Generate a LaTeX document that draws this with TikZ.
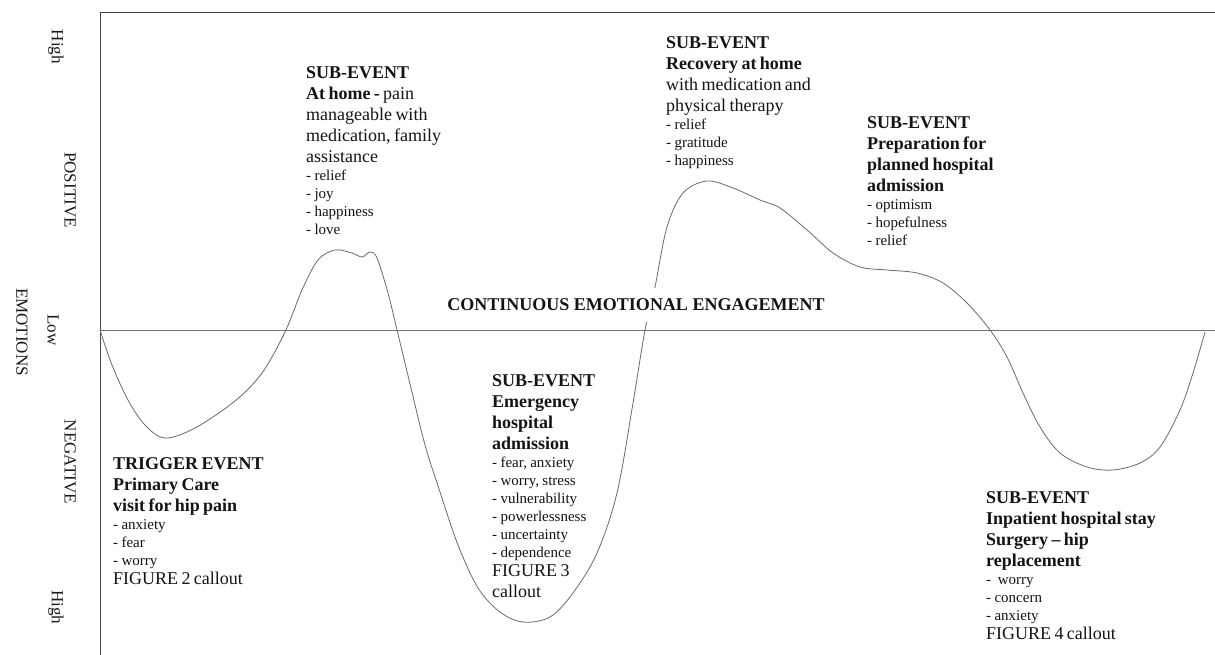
\documentclass[tikz,border=0pt]{standalone}
\usepackage{fontspec}
\setmainfont{Liberation Serif}
\newcommand\mainf{\fontsize{18}{21}\selectfont}
\newcommand\bulf{\fontsize{15}{18}\selectfont}
\newcommand\figf{\fontsize{18}{19}\selectfont}
\tikzset{
  lbl/.style={font=\fontsize{17}{20}\selectfont, rotate=-90, inner sep=0pt, text=black!90},
  evt/.style={anchor=north west, inner sep=0pt, align=left, text width=260pt, text=black!92},
  curveline/.style={draw=black!58, line width=0.8pt},
  frameline/.style={draw=black!72, line width=1pt},
  axisline/.style={draw=black!55, line width=0.8pt},
}
\begin{document}
\begin{tikzpicture}[x=1pt,y=-1pt]
\useasboundingbox (0,0) rectangle (1215,655);
\fill[white] (0,0) rectangle (1215,655);
% frame
\coordinate (tl) at (100,13);
\coordinate (tr) at (1215,13);
\coordinate (bl) at (100,655);
\coordinate (al) at (100,330);
\coordinate (ar) at (1215,330);
\draw[frameline] (tr) -- (tl) -- (bl);
\draw[axisline] (al) -- (ar);
% emotion curve
\draw[curveline] plot[smooth, tension=0.55] coordinates {
 (100,330) (112,365) (128,400) (145,425) (165,438) (195,428) (235,401) (262,373)
 (285,332) (302,290) (318,260) (335,250) (352,253) (362,257) (370,252) (377,258)
 (388,293) (397,330) (411,388) (425,445) (440,492) (458,545) (478,588) (500,612)
 (523,622) (550,617) (573,593) (597,553) (617,493) (633,403) (645,330) (655,287)
 (667,227) (683,193) (707,181) (733,188) (760,200) (780,208) (807,230) (833,253)
 (860,267) (887,270) (917,273) (943,283) (967,303) (990,330) (1007,357) (1023,393)
 (1040,427) (1060,453) (1087,467) (1113,470) (1140,463) (1160,447) (1180,410)
 (1193,373) (1205,332)};
% center label (breaks the curve)
\node[fill=white, inner xsep=4pt, inner ysep=11pt, font=\mainf\bfseries, text=black!92] (cee) at (636,305) {CONTINUOUS EMOTIONAL ENGAGEMENT};
% axis labels
\node[lbl] (hi1) at (56,47) {High};
\node[lbl] (pos) at (70,190) {POSITIVE};
\node[lbl] (emo) at (22,332) {EMOTIONS};
\node[lbl] (low) at (53,330) {Low};
\node[lbl] (neg) at (70,462) {NEGATIVE};
\node[lbl] (hi2) at (56,607) {High};
% event texts
\node[evt] (trig) at (113,457) {\mainf\textbf{TRIGGER EVENT}\par\textbf{Primary Care}\par\textbf{visit for hip pain}\par\bulf - anxiety\par - fear\par - worry\par\figf FIGURE 2 callout\par};
\node[evt] (home) at (306,66) {\mainf\textbf{SUB-EVENT}\par\textbf{At home -} pain\par manageable with\par medication, family\par assistance\par\bulf - relief\par - joy\par - happiness\par - love\par};
\node[evt] (emerg) at (492,374) {\mainf\textbf{SUB-EVENT}\par\textbf{Emergency}\par\textbf{hospital}\par\textbf{admission}\par\bulf - fear, anxiety\par - worry, stress\par - vulnerability\par - powerlessness\par - uncertainty\par - dependence\par\figf FIGURE 3\par\mainf callout\par};
\node[evt] (recov) at (666,36) {\mainf\textbf{SUB-EVENT}\par\textbf{Recovery at home}\par with medication and\par physical therapy\par\bulf - relief\par - gratitude\par - happiness\par};
\node[evt] (prep) at (867,116) {\mainf\textbf{SUB-EVENT}\par\textbf{Preparation for}\par\textbf{planned hospital}\par\textbf{admission}\par\bulf - optimism\par - hopefulness\par - relief\par};
\node[evt] (inpat) at (986,491) {\mainf\textbf{SUB-EVENT}\par\textbf{Inpatient hospital stay}\par\textbf{Surgery \textendash\ hip}\par\textbf{replacement}\par\bulf -\ \ worry\par - concern\par - anxiety\par\figf FIGURE 4 callout\par};
\end{tikzpicture}
\end{document}
